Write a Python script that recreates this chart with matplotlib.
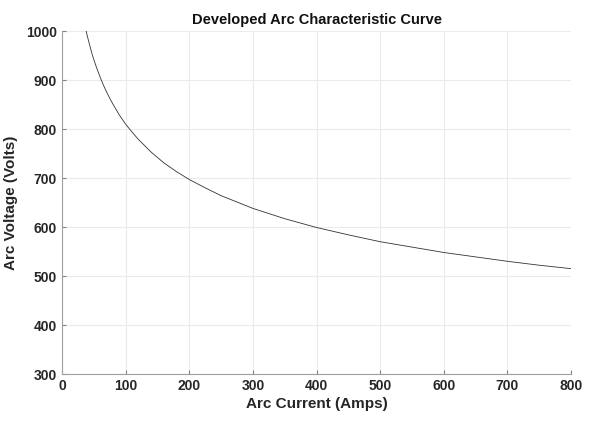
import matplotlib
matplotlib.use("Agg")
import matplotlib.pyplot as plt

# values
current_amps = [38, 40, 42, 45, 48, 50, 55, 60, 65, 70, 75, 80, 90, 100, 110, 120, 140,
                160, 180, 200, 225, 250, 275, 300, 350, 400, 450, 500, 550, 600, 650,
                700, 750, 800]
voltage_volts = [1000, 989, 979, 964, 950, 942, 923, 906, 890, 876, 863, 851, 829, 810,
                 794, 779, 753, 731, 713, 697, 680, 664, 651, 638, 617, 599, 584, 570,
                 559, 548, 539, 530, 522, 515]
x_ticks = [0, 100, 200, 300, 400, 500, 600, 700, 800]
y_ticks = [300, 400, 500, 600, 700, 800, 900, 1000]

plt.rcParams["font.family"] = ["Liberation Sans", "DejaVu Sans"]
plt.rcParams["font.weight"] = "bold"

fig = plt.figure(figsize=(5.9, 4.25), dpi=100)
ax = fig.add_axes([0.105, 0.12, 0.863, 0.807])

ax.plot(current_amps, voltage_volts, color="#333333", linewidth=0.6)

ax.set_xlim(0, 800)
ax.set_ylim(300, 1000)
ax.set_xticks(x_ticks)
ax.set_yticks(y_ticks)
ax.tick_params(direction="in", length=3, colors="#808080", labelcolor="#262626",
               labelsize=10)
for lbl in ax.get_xticklabels() + ax.get_yticklabels():
    lbl.set_fontweight("bold")

for side in ["top", "right"]:
    ax.spines[side].set_visible(False)
for side in ["left", "bottom"]:
    ax.spines[side].set_color("#a0a0a0")
    ax.spines[side].set_linewidth(0.8)

ax.grid(True, color="#ebebeb", linewidth=0.8)
ax.set_axisbelow(True)

ax.set_title("Developed Arc Characteristic Curve", fontsize=10.5, fontweight="bold",
             color="#111111", pad=5)
ax.set_xlabel("Arc Current (Amps)", fontsize=11, fontweight="bold", color="#262626",
              labelpad=3)
ax.set_ylabel("Arc Voltage (Volts)", fontsize=11, fontweight="bold", color="#262626",
              labelpad=6)

fig.savefig("out.png", dpi=100)
